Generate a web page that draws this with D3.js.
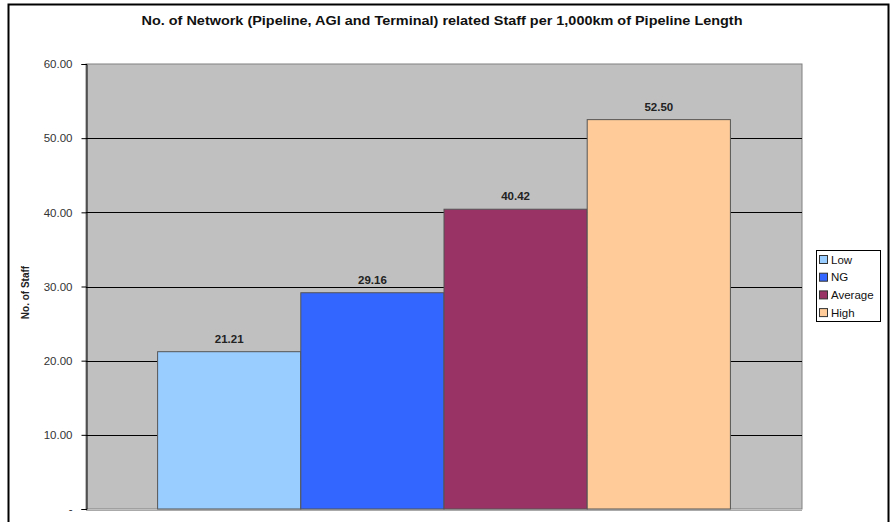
<!DOCTYPE html>
<html>
<head>
<meta charset="utf-8">
<script src="https://cdn.jsdelivr.net/npm/d3@7"></script>
<style>
  html, body { margin: 0; padding: 0; background: #fff; }
  svg { display: block; font-family: Arial, "Liberation Sans", sans-serif; }
</style>
</head>
<body>
<svg id="chart" width="893" height="522"></svg>
<script>
// Staff per 1,000 km of pipeline, one bar per benchmark series
const series = ["Low", "NG", "Average", "High"];
const values = [21.21, 29.16, 40.42, 52.50];
const colors = ["#99ccff", "#3366ff", "#993366", "#ffcc99"];
const yTicks = [0, 10, 20, 30, 40, 50, 60];

const svg = d3.select("#chart");
const W = 893, H = 522;
const plot = { left: 86, top: 64, right: 802, bottom: 509 };

// Outer chart frame
svg.append("rect")
  .attr("x", 8.5).attr("y", 4.5)
  .attr("width", 880).attr("height", H + 10)
  .attr("fill", "#fff").attr("stroke", "#000").attr("stroke-width", 2);

// Title
svg.append("text")
  .attr("x", 442).attr("y", 25)
  .attr("text-anchor", "middle")
  .attr("font-size", 12.5).attr("font-weight", "bold")
  .attr("fill", "#111")
  .attr("textLength", 601).attr("lengthAdjust", "spacingAndGlyphs")
  .text("No. of Network (Pipeline, AGI and Terminal) related Staff per 1,000km of Pipeline Length");

const y = d3.scaleLinear().domain([0, 60]).range([plot.bottom, plot.top]);

// One category; the four bars sit side by side with half a bar of gap on each side
const band = plot.right - plot.left;
const x = d3.scaleBand().domain(series)
  .range([plot.left + band / 10, plot.right - band / 10])
  .paddingInner(0).paddingOuter(0);

// Plot area background
svg.append("rect")
  .attr("x", plot.left).attr("y", plot.top)
  .attr("width", plot.right - plot.left).attr("height", plot.bottom - plot.top)
  .attr("fill", "#c0c0c0").attr("stroke", "#808080").attr("stroke-width", 1);

// Gridlines
svg.append("g").selectAll("line")
  .data(yTicks.filter(d => d > 0 && d < 60))
  .join("line")
  .attr("x1", plot.left).attr("x2", plot.right)
  .attr("y1", d => Math.round(y(d)) + 0.5).attr("y2", d => Math.round(y(d)) + 0.5)
  .attr("stroke", "#000").attr("stroke-width", 1);

// Bars
svg.append("g").selectAll("rect")
  .data(series)
  .join("rect")
  .attr("x", s => x(s))
  .attr("y", (s, i) => y(values[i]))
  .attr("width", x.bandwidth())
  .attr("height", (s, i) => y(0) - y(values[i]))
  .attr("fill", (s, i) => colors[i])
  .attr("stroke", "#555").attr("stroke-width", 1);

// Value labels
svg.append("g").selectAll("text")
  .data(series)
  .join("text")
  .attr("x", s => x(s) + x.bandwidth() / 2)
  .attr("y", (s, i) => y(values[i]) - 9)
  .attr("text-anchor", "middle")
  .attr("font-size", 11.5).attr("font-weight", "bold").attr("fill", "#222")
  .text((s, i) => values[i].toFixed(2));

// Y axis
const yAxis = d3.axisLeft(y).tickValues(yTicks)
  .tickSize(5).tickPadding(9)
  .tickFormat(d => d === 0 ? "-" : d.toFixed(2));
const ya = svg.append("g")
  .attr("transform", `translate(${plot.left + 0.5},0)`)
  .call(yAxis);
ya.select(".domain").attr("stroke", "#000");
ya.selectAll(".tick line").attr("stroke", "#000");
ya.selectAll(".tick text")
  .attr("font-family", "Arial, 'Liberation Sans', sans-serif")
  .attr("font-size", 11.5).attr("fill", "#333");

// X axis baseline
svg.append("line")
  .attr("x1", plot.left).attr("x2", plot.right)
  .attr("y1", plot.bottom + 1.5).attr("y2", plot.bottom + 1.5)
  .attr("stroke", "#aaa");

// Y axis title
svg.append("text")
  .attr("transform", `translate(29,${(plot.top + plot.bottom) / 2 + 6}) rotate(-90)`)
  .attr("text-anchor", "middle")
  .attr("font-size", 10).attr("font-weight", "bold").attr("fill", "#222")
  .text("No. of Staff");

// Legend
const lg = svg.append("g").attr("transform", "translate(816,250)");
lg.append("rect")
  .attr("x", 0.5).attr("y", 0.5).attr("width", 64).attr("height", 71)
  .attr("fill", "#fff").attr("stroke", "#000");
const items = lg.selectAll("g.item").data(series).join("g")
  .attr("class", "item")
  .attr("transform", (s, i) => `translate(0,${9 + i * 17.7})`);
items.append("rect")
  .attr("x", 3.5).attr("y", -3.5).attr("width", 8).attr("height", 8)
  .attr("fill", (s, i) => colors[i]).attr("stroke", "#333");
items.append("text")
  .attr("x", 15).attr("y", 4.5)
  .attr("font-size", 11.5).attr("fill", "#111")
  .text(s => s);
</script>
</body>
</html>
